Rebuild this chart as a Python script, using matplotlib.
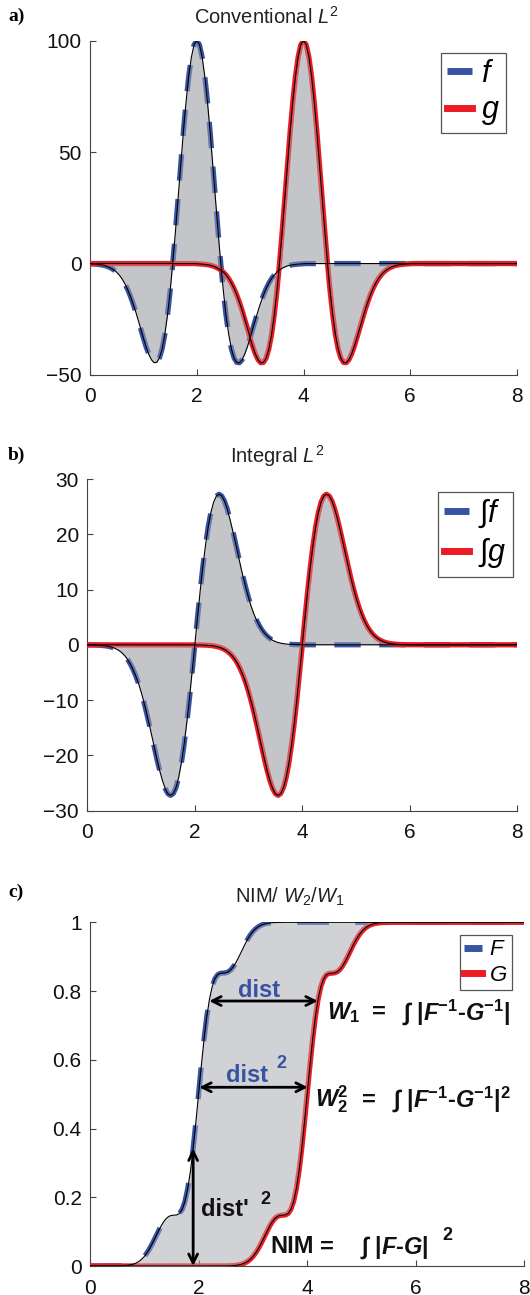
import numpy as np
import matplotlib
matplotlib.use('Agg')
import matplotlib.pyplot as plt

plt.rcParams['font.family'] = ['Liberation Sans', 'DejaVu Sans']
plt.rcParams['mathtext.fontset'] = 'custom'
plt.rcParams['mathtext.rm'] = 'Liberation Sans'
plt.rcParams['mathtext.it'] = 'Liberation Sans:italic'
plt.rcParams['mathtext.bf'] = 'Liberation Sans:bold'
plt.rcParams['mathtext.bfit'] = 'Liberation Sans:italic:bold'

# one half of the wavelet in panel a, read at offsets 0, 0.05, ... 2.0 from its centre
step = 0.05
wavelet_half = [100.0, 98.16, 92.74, 84.08, 72.69, 59.24, 44.47, 29.17, 14.12, -0.02,
                -12.67, -23.42, -31.99, -38.29, -42.35, -44.33, -44.49, -43.13, -40.59, -37.23,
                -33.32, -29.19, -25.06, -21.10, -17.45, -14.16, -11.31, -8.88, -6.86, -5.22,
                -3.90, -2.88, -2.09, -1.50, -1.05, -0.73, -0.50, -0.34, -0.23, -0.15, -0.10]
centre_f = 2.0
centre_g = 4.0
x_max = 8.0

xticks = [0, 2, 4, 6, 8]
yticks_a = [-50, 0, 50, 100]
yticks_b = [-30, -20, -10, 0, 10, 20, 30]
yticks_c = [0, 0.2, 0.4, 0.6, 0.8, 1]
yticklabels_c = ['0', '0.2', '0.4', '0.6', '0.8', '1']

BLUE = '#3953a4'
RED = '#ec1c24'
W, H = 530, 1295

# put the wavelet at its centre on a 0..8 grid
x = np.arange(int(round(x_max / step)) + 1) * step
wav = np.array(wavelet_half[::-1] + wavelet_half[1:])
half = len(wavelet_half) - 1


def place(centre):
    out = np.zeros_like(x)
    c = int(round(centre / step))
    lo, hi = max(c - half, 0), min(c + half, len(x) - 1)
    out[lo:hi + 1] = wav[lo - c + half:hi - c + half + 1]
    return out


def cumtrapz(v):
    return np.concatenate([[0.0], np.cumsum((v[1:] + v[:-1]) / 2 * step)])


f = place(centre_f)
g = place(centre_g)
If = cumtrapz(f)
Ig = cumtrapz(g)
F = cumtrapz(f ** 2)
F = F / F[-1]
G = cumtrapz(g ** 2)
G = G / G[-1]

fig = plt.figure(figsize=(W / 100, H / 100), dpi=100)


def make_ax(l, r, t, b):
    ax = fig.add_axes([l / W, 1 - b / H, (r - l) / W, (b - t) / H])
    for s in ['top', 'right']:
        ax.spines[s].set_visible(False)
    for s in ['left', 'bottom']:
        ax.spines[s].set_color('#444444')
        ax.spines[s].set_linewidth(0.8)
    ax.tick_params(direction='in', length=4, width=0.8, color='#444444',
                   labelsize=15, labelcolor='#111111')
    ax.tick_params(axis='x', pad=9)
    ax.tick_params(axis='y', pad=6)
    ax.set_xlim(0, x_max)
    ax.set_xticks(xticks)
    return ax


def curves(ax, a, b, fillc, dashes):
    ax.fill_between(x, a, b, color=fillc, lw=0, zorder=1)
    la, = ax.plot(x, a, color=BLUE, lw=3.8, dashes=dashes, zorder=2, solid_capstyle='butt')
    lb, = ax.plot(x, b, color=RED, lw=3.8, zorder=3)
    ax.fill_between(x, a, b, color=fillc, alpha=0.35, lw=0, zorder=4)
    ax.plot(x, a, color='k', lw=0.8, zorder=5)
    ax.plot(x, b, color='k', lw=0.8, zorder=5)
    return la, lb


def legend(ax, handles, labels, anchor, size):
    leg = ax.legend(handles, labels, loc='upper right', bbox_to_anchor=anchor,
                    fontsize=size, handlelength=0.8, handletextpad=0.3, borderpad=0.2,
                    labelspacing=0.2, borderaxespad=0, fancybox=False, framealpha=1,
                    edgecolor='#555555')
    leg.get_frame().set_linewidth(0.9)
    leg.set_zorder(8)
    for ln in leg.get_lines():
        ln.set_linestyle('-')
        ln.set_linewidth(5)
    return leg


def fig_text(px, py, s, **kw):
    fig.text(px / W, 1 - py / H, s, va='baseline', **kw)


# panel a
ax1 = make_ax(90, 517, 40.7, 375)
ax1.set_ylim(-50, 100)
ax1.set_yticks(yticks_a)
h = curves(ax1, f, g, '#c3c5c9', (5, 3.5))
legend(ax1, h, ['$f$', '$g$'], (0.9735, 0.963), 22)

# panel b
ax2 = make_ax(87.3, 517.3, 479, 810.7)
ax2.set_ylim(-30, 30)
ax2.set_yticks(yticks_b)
h = curves(ax2, If, Ig, '#c3c5c9', (5, 3.5))
legend(ax2, h, ['∫$f$', '∫$g$'], (0.989, 0.961), 22)

# panel c
ax3 = make_ax(90, 524.3, 922.3, 1266)
ax3.set_ylim(0, 1)
ax3.set_yticks(yticks_c)
ax3.set_yticklabels(yticklabels_c)
h = curves(ax3, F, G, '#d1d2d5', (6, 5))
legend(ax3, h, ['$F$', '$G$'], (0.971, 0.963), 16)

arrow = dict(arrowstyle='<->', lw=2, color='k', shrinkA=0, shrinkB=0, mutation_scale=16)
for yy in [0.771, 0.52]:
    ax3.annotate('', xy=(np.interp(yy, G, x), yy), xytext=(np.interp(yy, F, x), yy),
                 arrowprops=arrow, zorder=6)
x_arrow = 1.9
ax3.annotate('', xy=(x_arrow, np.interp(x_arrow, x, F)), xytext=(x_arrow, 0),
             arrowprops=arrow, zorder=6)

bold = dict(fontweight='bold', fontsize=17, zorder=7)
sup = dict(fontweight='bold', fontsize=13, zorder=7)
ax3.text(2.72, 0.784, 'dist', color=BLUE, **bold)
ax3.text(2.50, 0.534, 'dist', color=BLUE, **bold)
ax3.text(3.44, 0.575, '2', color=BLUE, **sup)
ax3.text(2.04, 0.146, "dist'", color='#111111', **bold)
ax3.text(3.13, 0.18, '2', color='#111111', **sup)

eq = dict(fontweight='bold', fontsize=17, color='#111111', zorder=7)
inv = r'∫ |$\mathbfit{F}^{\mathbf{-1}}$-$\mathbfit{G}^{\mathbf{-1}}$'
ax3.text(4.36, 0.718, r'$\mathbfit{W}_{\mathbf{1}}$', **eq)
ax3.text(5.19, 0.718, '=', **eq)
ax3.text(5.75, 0.718, inv + '|', **eq)
ax3.text(4.14, 0.463, r'$\mathbfit{W}_{\mathbf{2}}^{\mathbf{2}}$', **eq)
ax3.text(5.01, 0.463, '=', **eq)
ax3.text(5.56, 0.463, inv + r'$\mathbf{|}^{\mathbf{2}}$', **eq)
ax3.text(3.33, 0.037, 'NIM', **eq)
ax3.text(4.24, 0.037, '=', **eq)
ax3.text(4.97, 0.037, r'∫ |$\mathbfit{F}$-$\mathbfit{G}$|', **eq)
ax3.text(6.50, 0.076, '2', color='#111111', **sup)

# titles and panel letters
fig_text(266, 24, 'Conventional $L^2$', ha='center', fontsize=14.5, color='#222222')
fig_text(277, 463, 'Integral $L^2$', ha='center', fontsize=14.5, color='#222222')
fig_text(290, 903, 'NIM/ $W_2/W_1$', ha='center', fontsize=14.5, color='#222222')
for py, lab in [(21, 'a)'), (460, 'b)'), (897, 'c)')]:
    fig_text(8, py, lab, family='Liberation Serif', fontweight='bold', fontsize=14)

fig.savefig('out.png', dpi=100)
